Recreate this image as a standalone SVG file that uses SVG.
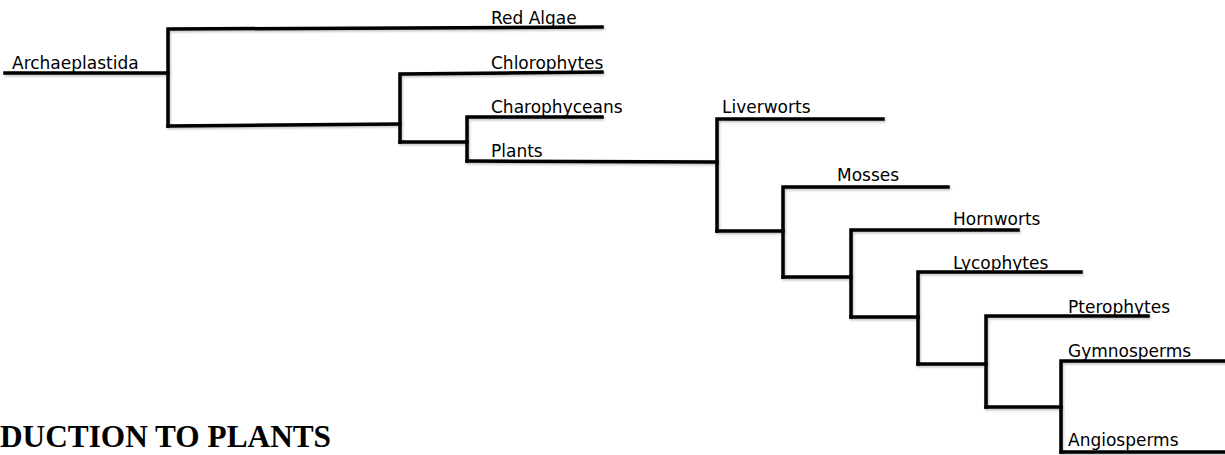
<svg xmlns="http://www.w3.org/2000/svg" width="1225" height="455" viewBox="0 0 1225 455">
<style>
.lbl{font-family:"DejaVu Sans","Noto Sans",sans-serif;font-size:17px;fill:#000}
.title{font-family:"Liberation Serif","Times New Roman",serif;font-size:31.3px;font-weight:bold;fill:#000}
.br{fill:none;stroke:#000;stroke-width:3.5;stroke-linecap:square;stroke-linejoin:miter}
</style>
<defs>
<filter id="sh" x="-5%" y="-20%" width="110%" height="140%">
<feDropShadow dx="1" dy="1.5" stdDeviation="1" flood-color="#000" flood-opacity="0.25"/>
</filter>
</defs>
<rect width="1225" height="455" fill="#fff"/>
<g id="connectors" class="br" filter="url(#sh)">
<path d="M5 73 H168"/>
<path d="M168 126 V29 L602 27"/>
<path d="M168 126 L400 124"/>
<path d="M400 142 V74 L602 72"/>
<path d="M400 142 H467"/>
<path d="M467 161 V117 H602"/>
<path d="M467 161 L717 162"/>
<path d="M717 231 V119 H883"/>
<path d="M717 231 H783"/>
<path d="M783 277 V187 H948"/>
<path d="M783 277 H851"/>
<path d="M851 317 V230 H1018"/>
<path d="M851 317 H918"/>
<path d="M918 364 V272 H1081"/>
<path d="M918 364 H986"/>
<path d="M986 407 V316 H1148"/>
<path d="M986 407 H1061"/>
<path d="M1061 452 V361 H1227"/>
<path d="M1061 452 H1227"/>
</g>
<g id="archaeplastida"><text class="lbl" x="12" y="69">Archaeplastida</text></g>
<g id="red-algae"><text class="lbl" x="491" y="24">Red Algae</text></g>
<g id="chlorophytes"><text class="lbl" x="491" y="69">Chlorophytes</text></g>
<g id="charophyceans"><text class="lbl" x="491" y="113">Charophyceans</text></g>
<g id="plants"><text class="lbl" x="491" y="157">Plants</text></g>
<g id="liverworts"><text class="lbl" x="722" y="113">Liverworts</text></g>
<g id="mosses"><text class="lbl" x="837" y="181">Mosses</text></g>
<g id="hornworts"><text class="lbl" x="953" y="225">Hornworts</text></g>
<g id="lycophytes"><text class="lbl" x="953" y="269">Lycophytes</text></g>
<g id="pterophytes"><text class="lbl" x="1068" y="313">Pterophytes</text></g>
<g id="gymnosperms"><text class="lbl" x="1068" y="357">Gymnosperms</text></g>
<g id="angiosperms"><text class="lbl" x="1068" y="446">Angiosperms</text></g>
<g id="title"><text class="title" x="0" y="447">DUCTION TO PLANTS</text></g>
</svg>
